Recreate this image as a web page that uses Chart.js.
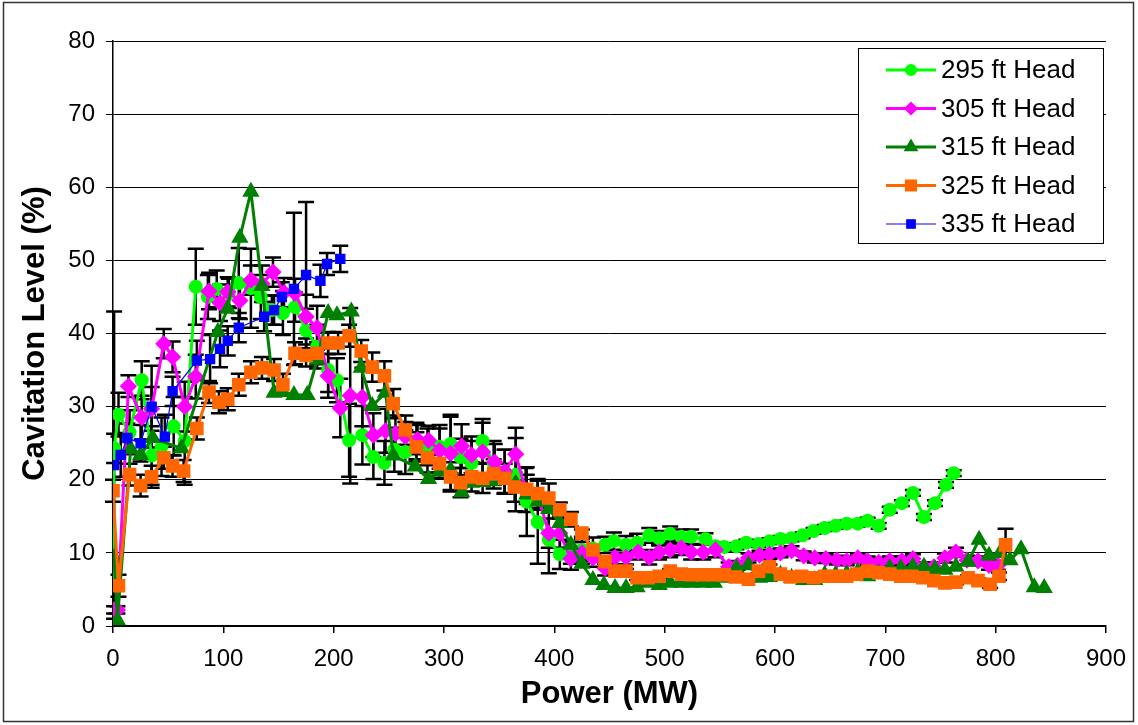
<!DOCTYPE html>
<html>
<head>
<meta charset="utf-8">
<title>Cavitation Level vs Power</title>
<script src="https://cdn.jsdelivr.net/npm/chart.js@4.4.1/dist/chart.umd.min.js"></script>
<style>
  html, body { margin: 0; padding: 0; background: #fff; }
  #wrap { width: 1138px; height: 725px; }
</style>
</head>
<body>
<div id="wrap"><canvas id="cavChart" width="1138" height="725"></canvas></div>
<script>
// 295 ft Head
const power295 = [0, 1, 5, 15, 26, 35, 44, 55, 65, 75, 86, 94, 105, 114, 125, 134, 144, 154, 165, 175, 185, 195, 203, 214, 226, 236, 246, 255, 265, 275, 285, 296, 306, 315, 325, 335, 345, 355, 365, 375, 385, 395, 405, 415, 425, 435, 446, 454, 465, 475, 486, 495, 505, 515, 524, 537, 546, 554, 565, 574, 585, 595, 605, 615, 625, 635, 645, 655, 665, 675, 684, 694, 704, 715, 725, 735, 745, 755, 762];
const level295 = [7, 24.3, 28.9, 26.5, 33.6, 23.3, 24.5, 27.3, 25.3, 46.4, 45.0, 46.1, 45.5, 46.9, 46.2, 45.0, 43.2, 42.8, 43.6, 40.4, 38.2, 35.0, 33.6, 25.4, 26.1, 23.1, 22.3, 24.1, 23.8, 25.3, 24.5, 24.5, 24.9, 23.1, 22.3, 25.3, 22.3, 21.1, 20.7, 17.0, 14.2, 11.8, 9.8, 10.0, 10.4, 10.6, 11.1, 11.6, 11.1, 11.4, 12.4, 12.0, 12.6, 12.2, 12.2, 11.9, 10.9, 10.8, 10.9, 11.4, 11.2, 11.6, 11.9, 12.0, 12.4, 13.0, 13.4, 13.7, 14.0, 14.0, 14.4, 13.7, 15.9, 16.8, 18.2, 14.9, 16.8, 19.3, 20.9];
const err295 = [0, 2, 3, 3, 2.6, 4, 4, 4, 6, 5.2, 3, 2.5, 2, 4.8, 5.4, 3, 2, 3, 2, 3, 3, 3, 3, 5, 4, 3, 3, 3, 3, 2.5, 2.5, 3, 4, 2.5, 3, 3, 3, 3, 5, 4.7, 5.7, 4.6, 2, 1.5, 1.5, 1.5, 1.1, 1.2, 1.2, 1.2, 1, 1, 1, 1, 1, 0.8, 0.5, 0.5, 0.4, 0.4, 0.4, 0.4, 0.4, 0.4, 0.4, 0.4, 0.4, 0.4, 0.4, 0.4, 0.4, 0.4, 0.4, 0.4, 0.4, 0.4, 0.4, 0.4, 0.4];

// 305 ft Head
const power305 = [1, 4, 14, 26, 35, 46, 54, 65, 75, 87, 97, 104, 115, 125, 135, 145, 155, 165, 175, 185, 195, 206, 215, 226, 236, 247, 256, 265, 276, 286, 296, 306, 316, 325, 335, 346, 355, 365, 374, 385, 395, 405, 415, 425, 435, 446, 455, 465, 476, 486, 495, 505, 515, 524, 535, 546, 558, 566, 576, 586, 595, 605, 615, 626, 636, 646, 656, 665, 675, 684, 694, 704, 715, 725, 735, 744, 754, 764, 774, 784, 794, 802];
const level305 = [2.2, 2.2, 32.8, 28.5, 29.7, 38.6, 36.8, 30.0, 34.1, 45.8, 44.2, 45.7, 44.5, 47.3, 46.8, 48.4, 45.6, 45.5, 42.3, 40.8, 34.2, 29.8, 31.5, 31.3, 26.1, 26.7, 26.3, 25.9, 25.5, 25.4, 24.0, 23.6, 24.6, 23.4, 23.8, 22.4, 21.1, 23.5, 18.6, 17.9, 12.7, 12.7, 9.2, 10.0, 9.3, 7.9, 9.4, 9.4, 10.1, 9.4, 10.1, 10.4, 10.7, 10.1, 10.1, 10.4, 8.1, 8.3, 9.3, 9.7, 9.8, 10.0, 10.3, 9.6, 9.3, 9.2, 9.0, 8.9, 9.3, 8.9, 8.7, 8.9, 8.9, 9.2, 8.1, 8.1, 9.3, 10.1, 9.0, 8.9, 8.3, 8.3];
const err305 = [0.5, 0.5, 1.5, 3, 3, 2, 2.1, 3.4, 3, 2.5, 2.5, 2, 2.5, 2, 2.5, 2, 2, 2, 3, 3, 3, 4, 12, 4, 3, 3, 2.5, 2, 2, 2, 3, 5, 3, 2.5, 4, 2.5, 3, 3.6, 3, 2, 2, 2, 1.5, 1.5, 1.2, 1, 1, 1, 1, 1, 1, 1, 1, 1, 1, 1, 0.6, 0.6, 0.6, 0.6, 0.6, 0.6, 0.6, 0.6, 0.6, 0.6, 0.6, 0.6, 0.6, 0.6, 0.6, 0.6, 0.6, 0.6, 0.6, 0.6, 0.6, 0.6, 0.6, 0.6, 0.6, 0.6];

// 315 ft Head
const power315 = [1, 4, 16, 25, 36, 62, 95, 104, 115, 125, 135, 146, 154, 164, 176, 185, 195, 203, 216, 225, 235, 247, 254, 274, 286, 296, 306, 316, 325, 335, 345, 355, 365, 375, 385, 395, 405, 415, 425, 435, 445, 455, 465, 475, 486, 495, 505, 515, 524, 535, 545, 555, 565, 576, 586, 595, 605, 615, 626, 636, 645, 655, 665, 675, 684, 694, 704, 714, 725, 735, 745, 754, 764, 775, 785, 794, 804, 813, 823, 835, 844];
const level315 = [9.3, 0.8, 24.2, 23.4, 25.7, 24.3, 40.2, 43.4, 53.1, 59.4, 46.5, 31.9, 32.0, 31.6, 31.6, 36.4, 42.8, 42.5, 43.0, 35.3, 30.1, 31.9, 23.3, 21.8, 20.1, 21.1, 21.3, 18.3, 19.6, 19.7, 19.8, 20.0, 19.5, 18.0, 17.0, 16.0, 14.1, 11.1, 8.5, 6.3, 5.6, 5.2, 5.2, 5.3, 5.9, 5.6, 5.9, 5.9, 5.9, 5.9, 5.9, 6.6, 7.9, 8.3, 6.6, 6.7, 7.0, 6.6, 6.3, 6.3, 7.0, 7.0, 7.1, 7.4, 6.8, 7.2, 7.9, 7.9, 8.1, 8.1, 7.8, 7.7, 8.1, 8.8, 11.8, 9.6, 10.0, 9.0, 10.5, 5.3, 5.2];

// 325 ft Head
const power325 = [0, 5, 15, 25, 35, 46, 54, 64, 76, 87, 96, 104, 114, 125, 135, 146, 154, 165, 175, 185, 195, 204, 214, 225, 235, 246, 254, 265, 275, 285, 296, 306, 315, 325, 335, 345, 355, 364, 375, 385, 395, 405, 415, 425, 435, 446, 455, 465, 475, 485, 495, 505, 515, 524, 534, 545, 554, 564, 576, 585, 595, 605, 614, 624, 635, 645, 655, 665, 674, 684, 694, 704, 714, 724, 734, 744, 754, 764, 775, 784, 795, 803, 809];
const level325 = [18.5, 5.5, 20.7, 19.2, 20.4, 23.0, 21.9, 21.2, 27.0, 32.0, 30.6, 31.0, 33.0, 34.7, 35.3, 35.0, 33.0, 37.3, 37.0, 37.3, 38.7, 38.7, 39.7, 37.6, 35.4, 34.2, 30.4, 26.8, 24.5, 23.0, 22.2, 20.4, 19.6, 20.4, 20.2, 20.8, 20.2, 19.0, 18.7, 18.1, 17.5, 15.9, 14.6, 12.7, 10.4, 8.8, 7.5, 7.5, 6.6, 6.6, 6.8, 7.5, 7.1, 7.0, 7.0, 7.0, 7.0, 6.7, 6.4, 7.5, 8.1, 7.1, 6.7, 6.8, 6.6, 6.8, 6.8, 6.8, 7.1, 7.5, 7.3, 7.1, 6.8, 6.8, 6.6, 6.2, 5.9, 6.0, 6.6, 6.2, 5.7, 6.8, 11.1];
const err325 = [1.5, 1.5, 1.5, 1.5, 1.5, 1.5, 1.5, 1.5, 1.5, 1.5, 1.5, 1.5, 1.5, 1.5, 1.5, 1.5, 1.5, 1.5, 1.5, 1.5, 1.5, 1.5, 1.5, 1.5, 2, 2, 2, 2, 2, 2, 2, 2, 2, 2, 2, 2, 2, 2, 2, 2, 2, 1, 1, 0.5, 0.5, 0.3, 0.3, 0.3, 0.3, 0.3, 0.3, 0.3, 0.3, 0.3, 0.3, 0.3, 0.3, 0.3, 0.3, 0.3, 0.3, 0.3, 0.3, 0.3, 0.3, 0.3, 0.3, 0.3, 0.3, 0.3, 0.3, 0.3, 0.3, 0.3, 0.3, 0.3, 0.3, 0.3, 0.3, 0.3, 0.5, 0.5, 2.2];

// 335 ft Head
const power335 = [1, 7, 13, 25, 35, 47, 54, 76, 88, 97, 104, 114, 137, 146, 153, 164, 175, 188, 194, 206];
const level335 = [22.0, 23.4, 25.7, 25.0, 30.0, 25.9, 32.1, 36.3, 36.5, 37.9, 39.0, 40.8, 42.3, 43.2, 45.0, 46.1, 48.0, 47.2, 49.5, 50.2];
const err335 = [21, 3, 2, 2.5, 5.6, 3, 2, 2.7, 3.3, 2.5, 2, 2, 2, 2, 2, 10.4, 10, 2.2, 1.5, 1.8];

const xTicks = [0, 100, 200, 300, 400, 500, 600, 700, 800, 900];
const yTicks = [0, 10, 20, 30, 40, 50, 60, 70, 80];

function points(xs, ys) {
    return xs.map(function (x, i) { return { x: x, y: ys[i] }; });
}

// error bars drawn from each dataset's "errors" list through the scales
const errorBars = {
    id: "errorBars",
    beforeDatasetsDraw(chart) {
        const ctx = chart.ctx;
        const xs = chart.scales.x;
        const ys = chart.scales.y;
        ctx.save();
        ctx.strokeStyle = "#000";
        ctx.lineWidth = 2.5;
        chart.data.datasets.forEach(function (ds) {
            if (!ds.errors) return;
            ds.data.forEach(function (p, j) {
                const e = ds.errors[j];
                if (!e) return;
                const px = xs.getPixelForValue(p.x);
                const top = ys.getPixelForValue(p.y + e);
                const bot = ys.getPixelForValue(Math.max(p.y - e, 0));
                ctx.beginPath();
                ctx.moveTo(px, top);
                ctx.lineTo(px, bot);
                ctx.moveTo(px - 8, top);
                ctx.lineTo(px + 8, top);
                if (p.y - e > 0) {
                    ctx.moveTo(px - 8, bot);
                    ctx.lineTo(px + 8, bot);
                }
                ctx.stroke();
            });
        });
        ctx.restore();
    }
};

// legend box inside the plot, like the original
const boxLegend = {
    id: "boxLegend",
    afterDraw(chart) {
        const ctx = chart.ctx;
        const left = 858, top = 48, w = 245, h = 195;
        ctx.save();
        ctx.fillStyle = "#fff";
        ctx.fillRect(left, top, w, h);
        ctx.strokeStyle = "#000";
        ctx.lineWidth = 1;
        ctx.strokeRect(left + 0.5, top + 0.5, w, h);
        ctx.font = "26px 'Liberation Sans', Arial, sans-serif";
        ctx.textBaseline = "middle";
        ctx.fillStyle = "#000";
        chart.data.datasets.forEach(function (ds, i) {
            const y = 70 + i * 38.5;
            ctx.strokeStyle = ds.borderColor;
            ctx.lineWidth = ds.borderWidth;
            ctx.beginPath();
            ctx.moveTo(886, y);
            ctx.lineTo(936, y);
            ctx.stroke();
            ctx.fillStyle = ds.backgroundColor;
            ctx.strokeStyle = ds.borderColor;
            Chart.helpers.drawPoint(ctx, {
                pointStyle: ds.pointStyle,
                radius: ds.legendRadius,
                borderWidth: 1
            }, 911, y);
            ctx.fillStyle = "#000";
            ctx.fillText(ds.label, 941, y + 1);
        });
        ctx.restore();
    }
};

const frame = {
    id: "frame",
    afterDraw(chart) {
        const ctx = chart.ctx;
        ctx.save();
        ctx.strokeStyle = "#333";
        ctx.lineWidth = 1.5;
        ctx.strokeRect(3.5, 2.5, 1130, 719);
        ctx.restore();
    }
};

const ctx = document.getElementById("cavChart").getContext("2d");

const chart = new Chart(ctx, {
    type: "line",
    data: {
        datasets: [{
            label: "295 ft Head",
            data: points(power295, level295),
            errors: err295,
            borderColor: "#00ff00",
            backgroundColor: "#00ff00",
            borderWidth: 3,
            pointStyle: "circle",
            pointRadius: 5.5,
            legendRadius: 4.5,
            order: 4
        }, {
            label: "305 ft Head",
            data: points(power305, level305),
            errors: err305,
            borderColor: "#ff00ff",
            backgroundColor: "#ff00ff",
            borderWidth: 3,
            pointStyle: "rectRot",
            pointRadius: 6.5,
            legendRadius: 5,
            order: 3
        }, {
            label: "315 ft Head",
            data: points(power315, level315),
            borderColor: "#008000",
            backgroundColor: "#008000",
            borderWidth: 3,
            pointStyle: "triangle",
            pointRadius: 7,
            legendRadius: 5.5,
            order: 2
        }, {
            label: "325 ft Head",
            data: points(power325, level325),
            errors: err325,
            borderColor: "#ff6600",
            backgroundColor: "#ff6600",
            borderWidth: 3,
            pointStyle: "rect",
            pointRadius: 7.5,
            legendRadius: 6.5,
            order: 1
        }, {
            label: "335 ft Head",
            data: points(power335, level335),
            errors: err335,
            borderColor: "#0000ff",
            backgroundColor: "#0000ff",
            borderWidth: 1.2,
            pointStyle: "rect",
            pointRadius: 6.5,
            legendRadius: 6,
            order: 0
        }]
    },
    options: {
        responsive: false,
        animation: false,
        devicePixelRatio: 1,
        layout: {
            padding: { left: 0, right: 28, top: 41, bottom: 0 }
        },
        elements: {
            point: { borderWidth: 1, hoverRadius: 6 },
            line: { tension: 0 }
        },
        plugins: {
            legend: { display: false },
            tooltip: { enabled: false }
        },
        scales: {
            x: {
                type: "linear",
                min: 0,
                max: 900,
                afterBuildTicks: function (scale) {
                    scale.ticks = xTicks.map(function (v) { return { value: v }; });
                },
                afterFit: function (scale) { scale.height = 99; },
                grid: {
                    drawOnChartArea: false,
                    drawTicks: true,
                    tickLength: 7,
                    color: "#000",
                    lineWidth: 1.5
                },
                border: { display: true, color: "#000", width: 1.5 },
                ticks: {
                    color: "#000",
                    padding: 12,
                    maxRotation: 0,
                    font: { family: "'Liberation Sans', Arial, sans-serif", size: 24 }
                },
                title: {
                    display: true,
                    text: "Power (MW)",
                    color: "#000",
                    padding: { top: 0, bottom: 12 },
                    font: { family: "'Liberation Sans', Arial, sans-serif", size: 31, weight: "bold" }
                }
            },
            y: {
                min: 0,
                max: 80,
                afterBuildTicks: function (scale) {
                    scale.ticks = yTicks.map(function (v) { return { value: v }; });
                },
                afterFit: function (scale) { scale.width = 113; },
                grid: {
                    color: "#000",
                    lineWidth: 1,
                    tickLength: 7
                },
                border: { display: true, color: "#000", width: 1.5 },
                ticks: {
                    color: "#000",
                    padding: 11,
                    font: { family: "'Liberation Sans', Arial, sans-serif", size: 24 }
                },
                title: {
                    display: true,
                    text: "Cavitation Level (%)",
                    color: "#000",
                    padding: { top: 17, bottom: 0 },
                    font: { family: "'Liberation Sans', Arial, sans-serif", size: 31, weight: "bold" }
                }
            }
        }
    },
    plugins: [errorBars, boxLegend, frame]
});
</script>
</body>
</html>
